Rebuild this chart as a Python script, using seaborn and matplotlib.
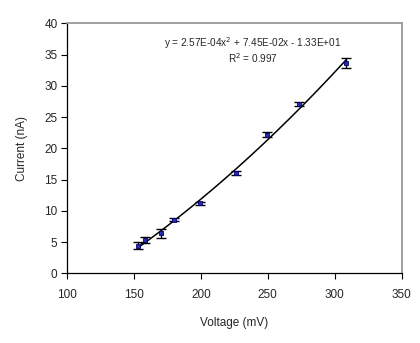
import numpy as np
import pandas as pd
import matplotlib
matplotlib.use("Agg")
import matplotlib.pyplot as plt
import seaborn as sns

voltage = [152.6, 158.4, 170.1, 179.6, 199.5, 226.3, 249.5, 273.1, 308.6]
current = [4.4, 5.3, 6.4, 8.6, 11.2, 16.0, 22.2, 27.1, 33.6]
current_err = [0.55, 0.5, 0.75, 0.2, 0.2, 0.3, 0.4, 0.3, 0.8]

# quadratic trendline as printed on the chart
coef = [2.57e-04, 7.45e-02, -1.33e+01]
r2 = 0.997

x_ticks = [100, 150, 200, 250, 300, 350]
y_ticks = [0, 5, 10, 15, 20, 25, 30, 35, 40]

sns.set_style("white")
plt.rcParams['font.family'] = ['Liberation Sans', 'DejaVu Sans']

df = pd.DataFrame({'Voltage': voltage, 'Current': current, 'err': current_err})

xs = np.linspace(min(voltage), max(voltage), 200)
fit = pd.DataFrame({'Voltage': xs, 'Current': np.polyval(coef, xs)})

fig = plt.figure(figsize=(4.2, 3.43), dpi=100)
ax = fig.add_axes([0.160, 0.203, 0.796, 0.729])

sns.lineplot(data=fit, x='Voltage', y='Current', color='black', linewidth=1.1, ax=ax)
ax.errorbar(df['Voltage'], df['Current'], yerr=df['err'], fmt='none',
            ecolor='black', elinewidth=1.0, capsize=3.5, capthick=1.0, zorder=3)
sns.scatterplot(data=df, x='Voltage', y='Current', marker='s', s=10,
                color='#2a2aa8', edgecolor='#000070', linewidth=0.6, ax=ax, zorder=4)

ax.set_xlim(100, 350)
ax.set_ylim(0, 40)
ax.set_xticks(x_ticks)
ax.set_yticks(y_ticks)
ax.tick_params(direction='out', length=4, width=0.8, labelsize=8.5, color='black')
ax.tick_params(axis='x', pad=7)
ax.tick_params(axis='y', pad=3)
ax.xaxis.set_ticks_position('bottom')
ax.yaxis.set_ticks_position('left')

for side in ['left', 'bottom']:
    ax.spines[side].set_color('black')
    ax.spines[side].set_linewidth(0.9)
for side in ['top', 'right']:
    ax.spines[side].set_color('#999999')
    ax.spines[side].set_linewidth(1.3)

ax.set_xlabel('Voltage (mV)', fontsize=8.5, labelpad=12)
ax.set_ylabel('Current (nA)', fontsize=8.5, labelpad=12)

ax.text(0.555, 0.922, 'y = 2.57E-04x$^2$ + 7.45E-02x - 1.33E+01',
        transform=ax.transAxes, ha='center', va='center', fontsize=7.2)
ax.text(0.555, 0.862, 'R$^2$ = %.3f' % r2,
        transform=ax.transAxes, ha='center', va='center', fontsize=7.2)

fig.savefig('out.png', dpi=100)
